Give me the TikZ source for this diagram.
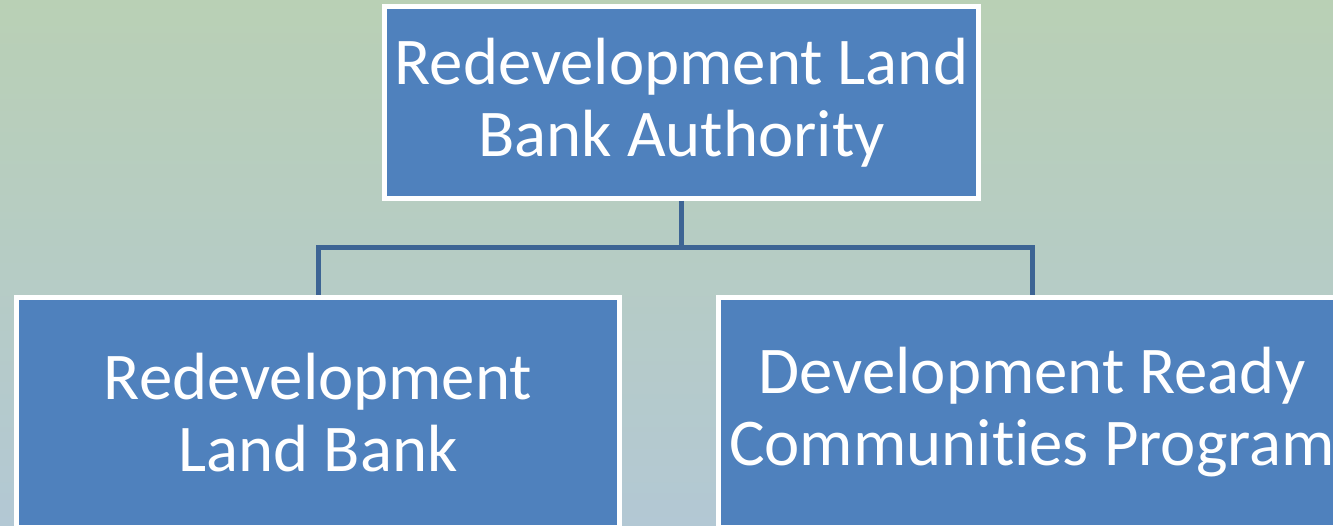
\documentclass[tikz,border=0pt]{standalone}
\usepackage{fontspec}
\setmainfont{Carlito}[Ligatures=NoCommon]
\usepackage{tikz}
\usetikzlibrary{arrows}

\definecolor{boxblue}{RGB}{79,129,189}
\definecolor{linkblue}{RGB}{61,100,148}
\definecolor{bgtop}{RGB}{185,208,181}
\definecolor{bgbot}{RGB}{179,200,212}

\begin{document}
\begin{tikzpicture}[
  orgbox/.style={draw=white,line width=0.1cm,fill=boxblue,text=white,
    align=center,font=\fontsize{38}{41}\selectfont},
  link/.style={draw=linkblue,line width=0.1cm}]
  \useasboundingbox (0,0) rectangle (26.66,10.5);
  \clip (0,0) rectangle (26.66,10.5);
  \shade[top color=bgtop,bottom color=bgbot] (0,0) rectangle (26.66,10.5);
  \node[orgbox,minimum width=11.88cm,minimum height=3.84cm] (O-1) at (13.63,8.45) {Redevelopment Land\\Bank Authority};
  \node[orgbox,minimum width=12.06cm,minimum height=4.6cm] (O-2) at (6.36,2.25) {Redevelopment\\Land Bank};
  \node[orgbox,minimum width=12.54cm,minimum height=4.6cm] (O-3) at (20.64,2.25) {Development Ready\\Communities Program};
  \coordinate (O-hub) at (13.63,5.54);
  \draw[link] (O-1.south) -- (O-hub) -| (O-2.north);
  \draw[link] (O-hub) -| (O-3.north);
\end{tikzpicture}
\end{document}
